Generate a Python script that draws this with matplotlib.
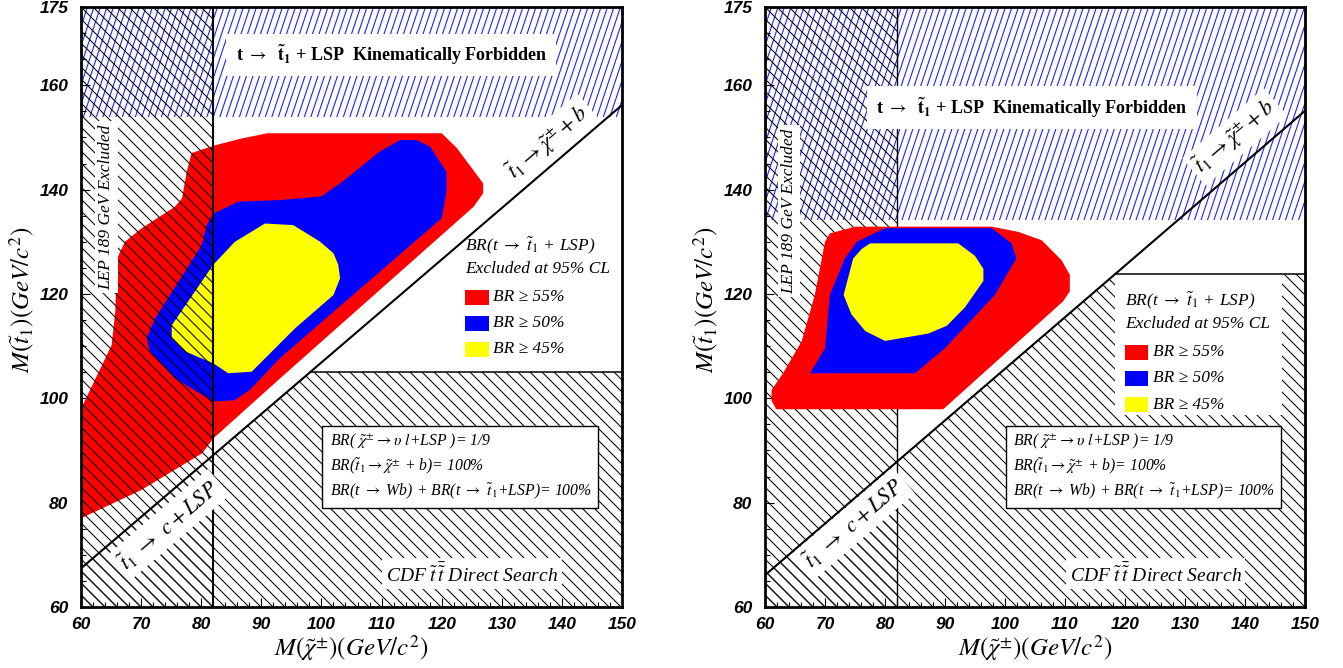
#!/usr/bin/env python3
"""
Stop / chargino exclusion plane for t -> stop + LSP, two LSP scenarios.

Left and right panels share the same layout: LEP and CDF hatched regions,
the kinematic limit band, and BR >= 55/50/45 % excluded contours.
"""
import numpy as np
import matplotlib
matplotlib.use("Agg")
import matplotlib.pyplot as plt
from matplotlib.patches import Polygon, Rectangle
from matplotlib.collections import LineCollection
from matplotlib.ticker import MultipleLocator

plt.rcParams["font.family"] = ["Liberation Serif", "DejaVu Serif"]
plt.rcParams["mathtext.fontset"] = "stix"

XLIM = (60, 150)
YLIM = (60, 175)
X_TICKS = [60, 70, 80, 90, 100, 110, 120, 130, 140, 150]
Y_TICKS = [60, 80, 100, 120, 140, 160, 175]

LEP_CHI = 82.0          # LEP 189 GeV chargino limit

# --- left panel --------------------------------------------------------------
L_DIAG_X = [60, 150]    # stop -> chargino + b threshold
L_DIAG_Y = [67.4, 156.2]
L_KIN_Y = 154.0         # t -> stop + LSP forbidden above this
L_CDF_Y = 105.0         # CDF direct search reach

L_RED_X = [60, 60, 65.1, 65.7, 66, 67.3, 70.1, 75.6, 76.8, 77.6, 78.4, 82,
           86.7, 91, 120, 122.5, 126.9, 126.9, 125.3, 93.1, 82, 80.2, 70]
L_RED_Y = [77, 98, 110.2, 116.6, 126.8, 130, 132.6, 136.7, 138.3, 143.5, 147,
           148.4, 149.8, 150.8, 150.8, 148, 141.2, 139.3, 136.7, 103.8, 92.3,
           89.5, 82.4]
L_BLUE_X = [82, 80.9, 80.1, 77.3, 72.3, 70.9, 71.5, 75.6, 82, 85.5, 88, 93.1,
            120, 120.8, 120.8, 118.1, 115.8, 113.1, 109.7, 103.6, 100, 93.1, 86.2]
L_BLUE_Y = [135.4, 133.2, 129.4, 124.3, 115.3, 111.5, 108.9, 103.8, 99.4, 99.6,
            101.5, 107.7, 134.5, 139.6, 143.4, 148.2, 149.5, 149.5, 147.3, 141.6,
            138.7, 138, 137.7]
L_YEL_X = [90.6, 85.6, 82, 75.1, 75.1, 77.3, 82, 84.5, 88.4, 95.6, 102, 103.1,
           102.8, 102, 99.8, 95.3]
L_YEL_Y = [133.5, 130, 125.6, 114, 111.5, 109, 106.7, 104.8, 105.1, 113.4, 119.8,
           123, 125.6, 127.8, 130, 133.2]

# --- right panel -------------------------------------------------------------
R_DIAG_X = [60, 150]
R_DIAG_Y = [66.1, 155.1]
R_KIN_Y = 134.2
R_CDF_Y = 123.8

R_RED_X = [70.8, 75, 97.8, 102.2, 106.1, 109.4, 110.8, 110.8, 109.7, 89.7, 61.9,
           61.1, 61.1, 63, 66.1, 68.3, 70]
R_RED_Y = [131.6, 132.9, 132.9, 131.9, 130.3, 126.5, 123.7, 120.5, 118.6, 97.9,
           97.9, 99.5, 101.6, 104.8, 110.9, 119.8, 130]
R_BLUE_X = [80, 97.8, 101.1, 101.9, 98.3, 90, 85, 67.5, 70, 70.8, 73.3, 75.3]
R_BLUE_Y = [132.6, 132.6, 129.7, 126.8, 119.8, 109.6, 104.8, 104.8, 109.6, 119.8,
            126.8, 130]
R_YEL_X = [77.5, 92.2, 95, 96.4, 96.4, 93.3, 90.3, 87.2, 80, 76.7, 74.4, 73.1,
           74.7, 76.1]
R_YEL_Y = [129.7, 129.7, 127.3, 124.8, 122.5, 117.4, 113.9, 112.4, 111, 112.9,
           116.1, 119.8, 126.8, 128.6]

BR_COLORS = ["#ff0000", "#0000ff", "#ffff00"]
BR_LABELS = ["BR ≥ 55%", "BR ≥ 50%", "BR ≥ 45%"]
ASSUMPTIONS = [
    r"BR( $\tilde{\chi}^{\pm}\rightarrow\upsilon$ $l$+LSP )= 1/9",
    r"BR($\tilde{t}_{1}\rightarrow\tilde{\chi}^{\pm}$ + b)= 100%",
    r"BR(t $\rightarrow$ Wb) + BR(t $\rightarrow$ $\tilde{t}_{1}$+LSP)= 100%",
]

WHITE = dict(boxstyle="square,pad=0.2", fc="white", ec="none")


def hatch(ax, xs, ys, step, slope, color, lw, z):
    """Parallel lines (pixel slope, horizontal spacing in px) clipped to a polygon."""
    w, h = ax.bbox.width, ax.bbox.height
    sx = w / (XLIM[1] - XLIM[0])
    shift = h / slope
    clip = Polygon(np.column_stack([xs, ys]), closed=True, fc="none", ec="none")
    ax.add_patch(clip)
    cs = np.arange(min(0, -shift) - step, w + max(0, -shift) + step, step)
    segs = [[(XLIM[0] + c / sx, YLIM[0]), (XLIM[0] + (c + shift) / sx, YLIM[1])]
            for c in cs]
    lc = LineCollection(segs, colors=color, linewidths=lw, zorder=z)
    ax.add_collection(lc, autolim=False)
    lc.set_clip_path(clip)


def draw_panel(ax, diag_x, diag_y, kin_y, cdf_y, regions, hatch_on_top,
               kin_xy, lep_xy, bdiag_xy, cdiag_xy, leg_xy, vline_lw):
    ax.set_xlim(*XLIM)
    ax.set_ylim(*YLIM)

    slope = (diag_y[1] - diag_y[0]) / (diag_x[1] - diag_x[0])
    x_cdf = diag_x[0] + (cdf_y - diag_y[0]) / slope

    # kinematically forbidden band
    hatch(ax, [XLIM[0], XLIM[1], XLIM[1], XLIM[0]], [kin_y, kin_y, YLIM[1], YLIM[1]],
          6.5, 3.0, "#2020ff", 0.8, 1)

    # excluded contours
    for (xs, ys), col in zip(regions, BR_COLORS):
        ax.add_patch(Polygon(np.column_stack([xs, ys]), closed=True, fc=col,
                             ec="none", zorder=2))

    # LEP and CDF hatching
    zh = 3 if hatch_on_top else 1.5
    hatch(ax, [XLIM[0], LEP_CHI, LEP_CHI, XLIM[0]], [YLIM[0], YLIM[0], YLIM[1], YLIM[1]],
          12, -1.0, "black", 0.75, zh)
    hatch(ax, [XLIM[0], XLIM[1], XLIM[1], x_cdf, diag_x[0]],
          [YLIM[0], YLIM[0], cdf_y, cdf_y, diag_y[0]], 12, -1.0, "black", 0.75, zh)

    ax.plot([LEP_CHI, LEP_CHI], YLIM, color="black", lw=vline_lw, zorder=zh + 0.1)
    ax.plot(diag_x, diag_y, color="black", lw=1.5, zorder=4)
    ax.plot([x_cdf, XLIM[1]], [cdf_y, cdf_y], color="black", lw=1.1, zorder=4)

    # legend
    lx, ly = leg_xy
    top = min(cdf_y, ly + 5.2)
    ax.add_patch(Rectangle((lx - 1.7, ly - 22.0), 27.9, top - (ly - 22.0),
                           fc="white", ec="none", zorder=3.5))
    ax.text(lx, ly, r"BR(t $\rightarrow$ $\tilde{t}_{1}$ + LSP)", style="italic",
            fontsize=12.5, va="center", zorder=6)
    ax.text(lx, ly - 4.6, "Excluded at 95% CL", style="italic", fontsize=12.5,
            va="center", zorder=6)
    for i, (col, lab) in enumerate(zip(BR_COLORS, BR_LABELS)):
        yc = ly - 10.0 - 5.0 * i
        ax.add_patch(Rectangle((lx, yc - 1.45), 3.9, 2.9, fc=col, ec="none", zorder=6))
        ax.text(lx + 4.7, yc, lab, style="italic", fontsize=12.5, va="center", zorder=6)

    # assumptions box
    ax.add_patch(Rectangle((100.1, 79.0), 45.9, 15.7, fc="white", ec="black",
                           lw=1.0, zorder=5))
    for i, line in enumerate(ASSUMPTIONS):
        ax.text(101.4, 91.8 - 4.9 * i, line, style="italic", fontsize=11.3,
                va="center", zorder=6)

    # region labels
    ax.text(*kin_xy, r"t $\rightarrow$  $\mathbf{\tilde{t}_{1}}$ + LSP  Kinematically Forbidden",
            fontweight="bold", fontsize=13, ha="center", va="center", zorder=6,
            bbox=dict(boxstyle="square,pad=0.5", fc="white", ec="none"))
    ax.text(*lep_xy, "LEP 189 GeV Excluded", style="italic", fontsize=12.5,
            rotation=90, ha="center", va="center", zorder=6, bbox=WHITE)
    p = ax.transData.transform([(diag_x[0], diag_y[0]), (diag_x[1], diag_y[1])])
    ang = np.degrees(np.arctan2(p[1, 1] - p[0, 1], p[1, 0] - p[0, 0]))
    ax.text(*bdiag_xy, r"$\tilde{t}_{1}\rightarrow\tilde{\chi}^{\pm}+b$", fontsize=16,
            rotation=ang, rotation_mode="anchor", ha="center", va="center",
            zorder=6, bbox=WHITE)
    ax.text(*cdiag_xy, r"$\tilde{t}_{1}\ \rightarrow\ c + LSP$", fontsize=16,
            rotation=ang, rotation_mode="anchor", ha="center", va="center",
            zorder=6, bbox=WHITE)
    ax.text(125.1, 66.4, r"CDF $\tilde{t}\,\bar{\tilde{t}}$ Direct Search", style="italic",
            fontsize=14, ha="center", va="center", zorder=6, bbox=WHITE)

    # axes cosmetics
    ax.set_xticks(X_TICKS)
    ax.set_yticks(Y_TICKS)
    ax.xaxis.set_minor_locator(MultipleLocator(2))
    ax.yaxis.set_minor_locator(MultipleLocator(5))
    ax.tick_params(which="both", direction="in", top=False, right=False, width=0.8)
    ax.tick_params(which="major", length=6.5)
    ax.tick_params(which="minor", length=3.5)
    ax.tick_params(axis="x", pad=7)
    ax.tick_params(axis="y", pad=9)
    for lab in ax.get_xticklabels() + ax.get_yticklabels():
        lab.set_fontfamily("Liberation Sans")
        lab.set_fontweight("bold")
        lab.set_fontstyle("italic")
        lab.set_fontsize(12.5)
    for sp in ax.spines.values():
        sp.set_linewidth(2.0)
        sp.set_zorder(7)

    ax.text(0.5, -0.068, r"$M(\tilde{\chi}^{\pm})(GeV/c^{2})$", fontsize=18,
            transform=ax.transAxes, ha="center", va="center")
    ax.text(-0.108, 0.512, r"$M(\tilde{t}_{1})(GeV/c^{2})$", fontsize=18, rotation=90,
            transform=ax.transAxes, ha="center", va="center")


def main() -> None:
    fig = plt.figure(figsize=(13.43, 6.68), dpi=100)
    ax_l = fig.add_axes([81 / 1343, 61 / 668, 541 / 1343, 600 / 668])
    ax_r = fig.add_axes([765 / 1343, 61 / 668, 540 / 1343, 600 / 668])

    draw_panel(ax_l, L_DIAG_X, L_DIAG_Y, L_KIN_Y, L_CDF_Y,
               [(L_RED_X, L_RED_Y), (L_BLUE_X, L_BLUE_Y), (L_YEL_X, L_YEL_Y)],
               hatch_on_top=True, kin_xy=(111.6, 165.8), lep_xy=(64.2, 136.7),
               bdiag_xy=(137.7, 149.1), cdiag_xy=(74.6, 75.7),
               leg_xy=(123.9, 129.4), vline_lw=1.5)
    draw_panel(ax_r, R_DIAG_X, R_DIAG_Y, R_KIN_Y, R_CDF_Y,
               [(R_RED_X, R_RED_Y), (R_BLUE_X, R_BLUE_Y), (R_YEL_X, R_YEL_Y)],
               hatch_on_top=False, kin_xy=(104.5, 155.8), lep_xy=(64.0, 135.9),
               bdiag_xy=(138.3, 150.1), cdiag_xy=(74.75, 76.0),
               leg_xy=(120.0, 118.8), vline_lw=1.0)

    fig.savefig("out.png", dpi=100)
    plt.close(fig)


if __name__ == "__main__":
    main()
